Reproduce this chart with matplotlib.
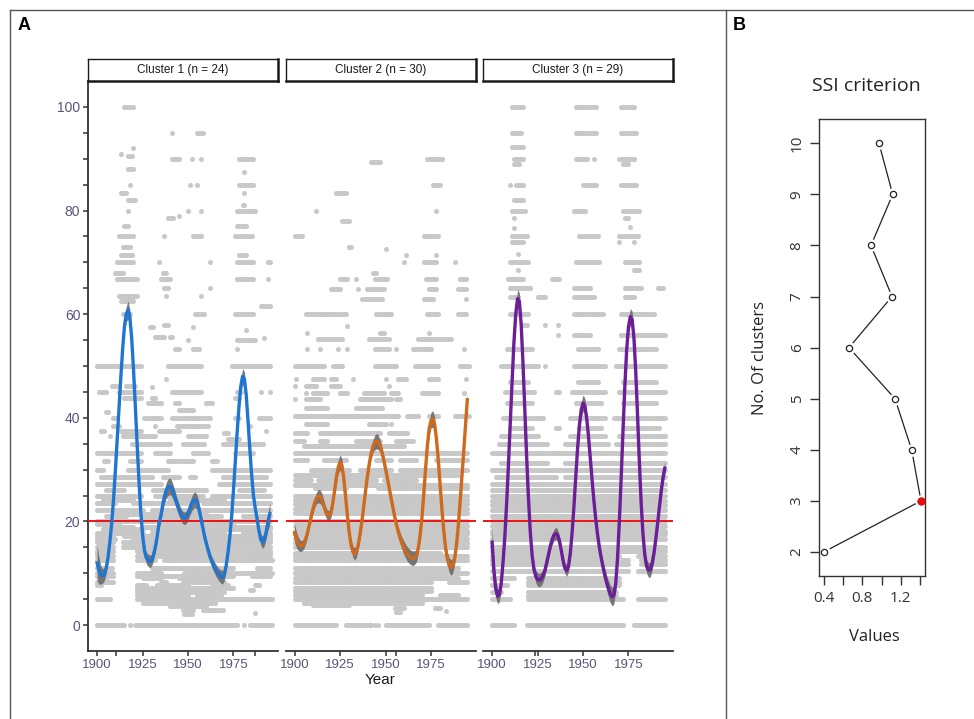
import numpy as np
import matplotlib
matplotlib.use("Agg")
import matplotlib.pyplot as plt
from matplotlib.lines import Line2D

# ── Data ──────────────────────────────────────────────────────────────────────
YEARS = np.arange(1900, 1996)
CLUSTER_LABELS = ["Cluster 1 (n = 24)", "Cluster 2 (n = 30)", "Cluster 3 (n = 29)"]
CLUSTER_COLORS = ["#1f76d2", "#cf6a1d", "#6c1d98"]
THRESHOLD = 20

# smoothed trend per cluster, one value per year 1900..1995
C1_TREND = [12.0, 10.5, 9.7, 9.5, 9.8, 11.0, 13.0, 16.0, 19.5, 24.0,
            29.5, 35.5, 41.5, 47.5, 53.0, 57.5, 60.0, 60.8, 59.5, 55.5,
            49.5, 42.5, 35.0, 28.0, 22.0, 17.5, 14.5, 13.0, 12.5, 12.3,
            12.5, 13.5, 15.0, 17.0, 19.5, 21.0, 23.0, 24.8, 26.0, 26.6,
            26.8, 26.4, 25.5, 24.4, 23.3, 22.3, 21.4, 20.8, 20.6, 20.8,
            21.5, 22.5, 23.4, 24.0, 24.2, 23.7, 22.5, 20.8, 19.0, 17.3,
            15.8, 14.5, 13.3, 12.3, 11.5, 10.8, 10.2, 9.7, 9.4, 9.2,
            9.8, 11.5, 14.0, 17.0, 21.0, 26.0, 31.5, 37.0, 42.0, 46.0,
            48.0, 47.5, 44.5, 39.5, 34.0, 29.0, 25.0, 22.5, 20.5, 18.2,
            16.5, 16.0, 16.5, 18.0, 20.0, 21.5]
C1_BAND = [3.5, 2.6, 1.8, 1.4, 1.2, 1.0, 0.9, 0.8, 0.8, 0.8,
           0.8, 0.9, 0.9, 1.0, 1.0, 1.2, 1.4, 1.8, 1.4, 1.1,
           1.0, 0.9, 0.9, 0.9, 0.9, 1.0, 1.0, 1.1, 1.2, 1.2,
           1.1, 1.0, 1.0, 1.0, 1.0, 1.1, 1.2, 1.3, 1.5, 1.6,
           1.6, 1.5, 1.4, 1.3, 1.2, 1.2, 1.2, 1.2, 1.2, 1.2,
           1.3, 1.3, 1.4, 1.5, 1.5, 1.4, 1.3, 1.1, 1.1, 1.0,
           1.0, 1.0, 1.0, 1.0, 1.1, 1.1, 1.2, 1.2, 1.3, 1.3,
           1.2, 1.0, 1.0, 0.9, 0.9, 0.9, 1.0, 1.0, 1.1, 1.3,
           1.5, 1.4, 1.2, 1.1, 1.0, 1.0, 1.0, 1.0, 1.0, 1.0,
           1.1, 1.2, 1.2, 1.3, 1.6, 2.2]

C2_TREND = [17.8, 16.5, 15.7, 15.3, 15.3, 15.7, 16.5, 17.7, 19.2, 20.8,
            22.3, 23.6, 24.5, 24.9, 24.8, 24.2, 23.2, 22.0, 21.2, 21.1,
            21.8, 23.5, 26.0, 28.6, 30.5, 31.4, 30.8, 28.5, 25.0, 21.3,
            18.0, 15.6, 14.2, 13.7, 14.2, 15.5, 17.5, 20.0, 22.8, 25.8,
            28.6, 31.0, 33.0, 34.4, 35.2, 35.5, 35.3, 34.6, 33.4, 31.9,
            30.2, 28.4, 26.5, 24.6, 22.8, 21.0, 19.4, 18.0, 16.8, 15.8,
            15.0, 14.3, 13.7, 13.3, 13.0, 12.9, 13.0, 13.4, 14.8, 17.2,
            20.5, 25.0, 30.0, 34.5, 37.8, 39.5, 39.8, 38.8, 36.0, 32.0,
            27.3, 22.5, 18.3, 15.0, 12.8, 11.6, 11.1, 11.5, 12.8, 15.3,
            19.0, 23.5, 28.5, 33.5, 38.5, 43.5]
C2_BAND = [1.8, 1.5, 1.3, 1.1, 1.0, 1.0, 0.9, 0.8, 0.8, 0.8,
           0.9, 1.0, 1.1, 1.3, 1.3, 1.2, 1.0, 1.0, 1.0, 1.0,
           1.0, 1.0, 1.0, 1.2, 1.3, 1.5, 1.3, 1.1, 1.0, 0.9,
           0.9, 1.0, 1.1, 1.2, 1.1, 1.0, 0.9, 0.8, 0.8, 0.8,
           0.9, 1.0, 1.1, 1.2, 1.4, 1.5, 1.4, 1.2, 1.1, 1.0,
           1.0, 0.9, 0.9, 0.9, 0.9, 0.9, 1.0, 1.0, 1.1, 1.2,
           1.3, 1.3, 1.4, 1.4, 1.4, 1.4, 1.3, 1.2, 1.0, 0.9,
           0.8, 0.8, 0.9, 1.0, 1.2, 1.5, 1.6, 1.4, 1.2, 1.0,
           0.9, 0.9, 1.0, 1.1, 1.3, 1.4, 1.5, 1.4, 1.2, 1.0,
           1.0, 1.0, 1.0, 1.1, 1.2, 1.3]

C3_TREND = [16.0, 10.5, 7.0, 5.6, 5.8, 8.0, 12.0, 17.0, 23.5, 31.0,
            39.0, 47.0, 54.5, 60.0, 63.0, 62.5, 58.0, 50.5, 41.5, 32.5,
            24.5, 18.0, 13.5, 10.8, 9.4, 8.8, 8.7, 8.9, 9.5, 10.5,
            12.0, 13.6, 15.2, 16.5, 17.4, 17.7, 17.4, 16.3, 14.5, 12.5,
            11.0, 10.5, 11.3, 13.8, 17.8, 22.8, 28.5, 34.0, 38.5, 41.5,
            42.8, 42.3, 40.0, 36.5, 32.3, 28.0, 24.0, 20.5, 17.5, 15.0,
            13.0, 11.2, 9.6, 8.2, 7.0, 6.0, 5.5, 5.8, 8.0, 13.0,
            20.0, 28.5, 37.5, 46.0, 53.0, 57.5, 59.5, 59.0, 55.5, 49.0,
            40.5, 31.5, 23.5, 17.5, 13.5, 11.3, 10.6, 10.7, 11.8, 13.8,
            16.5, 19.5, 22.7, 25.8, 28.5, 30.3]
C3_BAND = [3.0, 2.2, 1.7, 1.5, 1.3, 1.1, 1.0, 0.9, 0.9, 0.9,
           1.0, 1.0, 1.2, 1.4, 1.8, 1.6, 1.2, 1.1, 1.0, 0.9,
           0.9, 0.9, 1.0, 1.0, 1.2, 1.3, 1.3, 1.3, 1.2, 1.1,
           1.0, 1.0, 1.0, 1.0, 1.1, 1.2, 1.1, 1.0, 1.0, 1.0,
           1.0, 1.1, 1.0, 1.0, 0.9, 0.9, 1.0, 1.1, 1.3, 1.5,
           1.6, 1.5, 1.3, 1.1, 1.0, 0.9, 0.9, 0.9, 1.0, 1.0,
           1.1, 1.2, 1.3, 1.4, 1.6, 1.7, 1.8, 1.7, 1.4, 1.1,
           1.0, 0.9, 0.9, 1.0, 1.1, 1.4, 1.6, 1.6, 1.3, 1.1,
           1.0, 0.9, 0.9, 1.0, 1.1, 1.3, 1.4, 1.4, 1.3, 1.1,
           1.0, 1.0, 1.0, 1.1, 1.2, 1.4]

# raw observations as runs of yearly points: (value, first year, last year)
C1_POINTS = [
    (100, 1915, 1920), (95, 1941, 1941), (95, 1955, 1958), (92, 1920, 1920),
    (91, 1913, 1913), (90.5, 1917, 1919), (90, 1941, 1945), (90, 1952, 1952),
    (90, 1957, 1957), (90, 1978, 1986), (88, 1917, 1920), (87.5, 1981, 1981),
    (85, 1918, 1918), (85, 1951, 1951), (85, 1955, 1955), (85, 1978, 1986),
    (83.3, 1913, 1916), (82, 1917, 1921), (83.3, 1981, 1981), (81, 1980, 1981),
    (80, 1917, 1917), (80, 1950, 1950), (80, 1957, 1957), (80, 1977, 1987),
    (78.5, 1939, 1942), (79, 1945, 1945), (77, 1915, 1917), (77, 1977, 1982),
    (75, 1912, 1920), (75, 1937, 1937), (75, 1953, 1957), (75, 1976, 1985),
    (73, 1914, 1918), (71.4, 1913, 1919), (71.4, 1978, 1982), (70, 1911, 1920),
    (70, 1934, 1934), (70, 1962, 1962), (70, 1977, 1986), (70, 1994, 1995),
    (68, 1910, 1914), (68, 1936, 1938), (66.7, 1911, 1922), (66.7, 1935, 1940),
    (66.7, 1977, 1986), (66.7, 1994, 1994), (65, 1937, 1939), (65, 1962, 1962),
    (63.6, 1912, 1922), (63.6, 1938, 1938), (63.6, 1957, 1957), (62.5, 1913, 1920),
    (61.5, 1990, 1995), (60, 1914, 1918), (60, 1954, 1959), (60, 1976, 1986),
    (57.5, 1929, 1931), (58, 1937, 1939), (57.5, 1953, 1953), (57, 1982, 1982),
    (55.6, 1932, 1937), (55.6, 1940, 1941), (55, 1950, 1950), (55, 1977, 1987),
    (55.5, 1992, 1992), (53.3, 1943, 1945), (53.3, 1953, 1956), (53.3, 1977, 1977),
    (50, 1900, 1924), (50, 1939, 1957), (50, 1974, 1995), (47.5, 1938, 1938),
    (46.2, 1908, 1912), (46.2, 1916, 1921), (46, 1930, 1930), (45, 1901, 1905),
    (45, 1912, 1924), (45, 1941, 1957), (45, 1977, 1979), (45, 1990, 1990),
    (45, 1995, 1995), (43.8, 1915, 1924), (43.8, 1930, 1932), (43.8, 1976, 1978),
    (42.8, 1928, 1935), (42.8, 1943, 1945), (42.8, 1960, 1963), (41.2, 1905, 1906),
    (41.5, 1945, 1953), (40, 1909, 1911), (40, 1926, 1935), (40, 1941, 1962),
    (40, 1976, 1978), (40, 1989, 1995), (38.5, 1909, 1912), (38.5, 1932, 1932),
    (38.5, 1944, 1961), (38.5, 1984, 1984), (37.5, 1902, 1904), (37.5, 1913, 1924),
    (37.5, 1934, 1945), (37, 1970, 1972), (37.5, 1993, 1993), (36.4, 1907, 1907),
    (36.4, 1914, 1932), (36.4, 1950, 1960), (36, 1972, 1978), (35, 1919, 1940),
    (35, 1947, 1959), (35, 1969, 1991), (33.3, 1900, 1924), (33.3, 1932, 1940),
    (33.3, 1953, 1961), (33.3, 1976, 1986), (31.6, 1904, 1906), (31.6, 1918, 1924),
    (31.6, 1939, 1953), (31.6, 1963, 1966), (30, 1900, 1903), (30, 1917, 1939),
    (30, 1963, 1995), (28.6, 1902, 1930), (28.6, 1936, 1945), (28.6, 1951, 1954),
    (28.6, 1969, 1993), (27.3, 1900, 1935), (27.3, 1967, 1995), (26, 1905, 1915),
    (26, 1931, 1960), (26, 1978, 1992), (25, 1900, 1924), (25, 1932, 1958),
    (25, 1963, 1995), (24.2, 1903, 1920), (24.2, 1940, 1970), (23.5, 1900, 1910),
    (23.5, 1920, 1950), (23.5, 1958, 1995), (22.2, 1900, 1925), (22.2, 1930, 1995),
    (21.5, 1910, 1960), (21, 1905, 1916), (21, 1925, 1968), (21, 1980, 1995),
    (20, 1900, 1995), (19.5, 1900, 1912), (19.5, 1935, 1975), (19, 1905, 1920),
    (19, 1925, 1960), (19, 1975, 1995), (18.5, 1903, 1925), (18.5, 1930, 1995),
    (17.8, 1900, 1925), (17.8, 1930, 1970), (17.8, 1980, 1995), (17.2, 1900, 1909),
    (17.2, 1915, 1995), (16.7, 1900, 1910), (16.7, 1920, 1995), (16, 1900, 1909),
    (16, 1914, 1995), (15.4, 1903, 1906), (15.4, 1930, 1970), (15, 1900, 1909),
    (15, 1914, 1995), (14.3, 1900, 1909), (14.3, 1922, 1995), (14, 1900, 1908),
    (14, 1925, 1960), (14, 1985, 1995), (13.3, 1900, 1909), (13.3, 1922, 1995),
    (12.5, 1900, 1909), (12.5, 1922, 1932), (12.5, 1937, 1996), (11.1, 1900, 1908),
    (11.1, 1930, 1975), (11.1, 1988, 1995), (10, 1900, 1909), (10, 1922, 1935),
    (10, 1948, 1996), (9.5, 1900, 1909), (9.5, 1922, 1975), (9.5, 1985, 1995),
    (9, 1902, 1905), (9, 1925, 1935), (9, 1945, 1965), (8.3, 1900, 1909),
    (8.3, 1935, 1938), (8.3, 1947, 1970), (7.7, 1900, 1902), (7.7, 1922, 1927),
    (7.7, 1933, 1950), (7.7, 1963, 1972), (7.7, 1987, 1989), (7.1, 1922, 1975),
    (6.7, 1922, 1966), (6.7, 1984, 1986), (6.3, 1922, 1970), (5.9, 1922, 1950),
    (5.9, 1955, 1968), (5, 1900, 1907), (5, 1922, 1977), (5, 1978, 1996),
    (4.3, 1925, 1965), (3.6, 1940, 1960), (2.9, 1947, 1953), (2.9, 1958, 1969),
    (2.3, 1987, 1987), (2.2, 1948, 1952), (0, 1900, 1915), (0, 1918, 1918),
    (0, 1921, 1977), (0, 1981, 1981), (0, 1984, 1996),
]
C2_POINTS = [
    (90, 1973, 1981), (89.3, 1942, 1947), (85, 1976, 1980), (83.3, 1923, 1928),
    (80, 1912, 1912), (80, 1978, 1978), (78, 1926, 1930), (75, 1900, 1904),
    (75, 1971, 1979), (73, 1930, 1931), (72.5, 1950, 1950), (71.4, 1961, 1961),
    (71.4, 1978, 1978), (70, 1960, 1960), (70, 1971, 1978), (70, 1988, 1988),
    (68, 1943, 1945), (66.7, 1925, 1929), (66.7, 1934, 1934), (66.7, 1944, 1951),
    (66.7, 1972, 1978), (66.7, 1991, 1994), (64.8, 1920, 1925), (64.8, 1935, 1935),
    (64.8, 1940, 1949), (64.8, 1974, 1978), (64.8, 1990, 1994), (62.9, 1937, 1948),
    (62.9, 1971, 1976), (62.9, 1994, 1994), (60, 1906, 1928), (60, 1945, 1953),
    (60, 1973, 1979), (60, 1990, 1994), (57.7, 1929, 1929), (56.4, 1907, 1907),
    (56.4, 1947, 1949), (56.4, 1974, 1974), (55.2, 1913, 1926), (55.2, 1941, 1952),
    (55.2, 1968, 1986), (53.2, 1907, 1907), (53.2, 1914, 1914), (53.2, 1924, 1924),
    (53.2, 1929, 1929), (53.2, 1944, 1952), (53.2, 1956, 1956), (53.2, 1965, 1975),
    (53.2, 1993, 1993), (50, 1900, 1916), (50, 1921, 1926), (50, 1944, 1956),
    (50, 1966, 1979), (50, 1991, 1996), (47.4, 1901, 1901), (47.4, 1910, 1916),
    (47.4, 1920, 1923), (47.4, 1932, 1932), (47.4, 1950, 1950), (47.4, 1957, 1961),
    (47.4, 1974, 1979), (47.4, 1994, 1994), (46.1, 1900, 1900), (46.1, 1906, 1912),
    (46.1, 1920, 1925), (46.1, 1952, 1952), (44.8, 1906, 1906), (44.8, 1910, 1918),
    (44.8, 1925, 1929), (44.8, 1938, 1949), (44.8, 1953, 1957), (44.8, 1970, 1979),
    (44.8, 1993, 1993), (43.6, 1900, 1900), (43.6, 1906, 1914), (43.6, 1936, 1953),
    (43.6, 1956, 1958), (41.9, 1906, 1918), (41.9, 1934, 1948), (40.3, 1900, 1957),
    (40.3, 1962, 1968), (40.3, 1974, 1979), (40.3, 1988, 1996), (38.9, 1906, 1918),
    (38.9, 1941, 1950), (38.9, 1953, 1953), (37.1, 1900, 1907), (37.1, 1914, 1947),
    (37.1, 1952, 1962), (35.5, 1900, 1905), (35.5, 1914, 1918), (35.5, 1934, 1947),
    (35.5, 1956, 1965), (34.5, 1905, 1960), (33.3, 1900, 1995), (31.9, 1900, 1907),
    (31.9, 1916, 1928), (31.9, 1945, 1953), (31.9, 1958, 1967), (31.9, 1978, 1995),
    (30, 1909, 1930), (30, 1936, 1953), (30, 1958, 1965), (30, 1967, 1995),
    (29, 1900, 1990), (28, 1900, 1909), (28, 1913, 1945), (28, 1949, 1967),
    (27, 1900, 1995), (26.4, 1911, 1928), (26.4, 1946, 1995), (25, 1900, 1995),
    (24.2, 1900, 1995), (23.3, 1900, 1995), (22.5, 1900, 1995), (21.7, 1900, 1995),
    (20, 1900, 1995), (19.2, 1900, 1995), (18.2, 1900, 1995), (17.5, 1900, 1995),
    (16.7, 1900, 1995), (15.8, 1900, 1995), (15, 1900, 1995), (14, 1900, 1980),
    (13.3, 1900, 1995), (12.5, 1900, 1995), (11.1, 1900, 1990), (10, 1900, 1995),
    (9.1, 1900, 1990), (8.3, 1900, 1975), (8.3, 1985, 1995), (7.1, 1900, 1975),
    (6.5, 1900, 1975), (5.9, 1900, 1970), (5.9, 1980, 1990), (5, 1900, 1995),
    (4.2, 1905, 1970), (3.8, 1910, 1930), (3.3, 1955, 1960), (2.5, 1956, 1958),
    (3.3, 1977, 1980), (2.8, 1983, 1983), (0, 1900, 1923), (0, 1928, 1942),
    (0, 1944, 1944), (0, 1946, 1946), (0, 1950, 1974), (0, 1979, 1995),
]
C3_POINTS = [
    (100, 1911, 1917), (100, 1946, 1957), (100, 1971, 1978), (95, 1911, 1916),
    (95, 1946, 1957), (95, 1971, 1979), (92.3, 1911, 1917), (90, 1912, 1917),
    (90, 1946, 1952), (90, 1956, 1956), (90, 1970, 1978), (88.9, 1912, 1915),
    (88.9, 1972, 1975), (85, 1910, 1910), (85, 1913, 1917), (85, 1950, 1957),
    (85, 1971, 1979), (82, 1912, 1917), (80, 1911, 1918), (80, 1945, 1951),
    (80, 1972, 1981), (78.6, 1912, 1912), (78.6, 1973, 1975), (76.7, 1912, 1912),
    (76.9, 1976, 1976), (75, 1911, 1919), (75, 1948, 1958), (75, 1970, 1980),
    (73.9, 1911, 1917), (73.9, 1970, 1970), (73.9, 1978, 1978), (71.7, 1914, 1914),
    (70, 1910, 1920), (70, 1946, 1959), (70, 1973, 1981), (68.5, 1914, 1914),
    (68.5, 1978, 1981), (66.7, 1909, 1917), (66.7, 1933, 1937), (65, 1910, 1921),
    (65, 1945, 1954), (65, 1973, 1982), (65, 1991, 1994), (63.3, 1910, 1914),
    (63.3, 1925, 1929), (63.3, 1945, 1956), (63.3, 1973, 1978), (60, 1910, 1920),
    (60, 1945, 1961), (60, 1971, 1989), (58, 1917, 1919), (58, 1929, 1929),
    (58, 1936, 1936), (55.9, 1936, 1936), (55.9, 1945, 1954), (55.9, 1971, 1995),
    (53.3, 1908, 1922), (53.3, 1947, 1958), (53.3, 1970, 1990), (50, 1905, 1925),
    (50, 1929, 1929), (50, 1945, 1962), (50, 1968, 1995), (47, 1910, 1920),
    (47, 1947, 1958), (47, 1972, 1990), (45, 1907, 1923), (45, 1935, 1937),
    (45, 1944, 1962), (45, 1970, 1995), (42.9, 1908, 1922), (42.9, 1946, 1960),
    (42.9, 1972, 1990), (40, 1906, 1928), (40, 1943, 1962), (40, 1967, 1995),
    (38, 1910, 1922), (38, 1935, 1937), (38, 1948, 1960), (38, 1972, 1992),
    (36.4, 1905, 1925), (36.4, 1943, 1962), (36.4, 1970, 1995), (35, 1904, 1930),
    (35, 1940, 1964), (35, 1968, 1995), (33.3, 1900, 1995), (31.3, 1905, 1930),
    (31.3, 1940, 1995), (30, 1900, 1995), (28.6, 1902, 1935), (28.6, 1940, 1995),
    (27.3, 1900, 1995), (26, 1900, 1995), (25, 1900, 1995), (24, 1900, 1995),
    (23.1, 1900, 1995), (22.2, 1900, 1995), (21, 1900, 1995), (20, 1900, 1995),
    (19.2, 1900, 1995), (18.2, 1900, 1995), (17.5, 1900, 1995), (16.7, 1900, 1995),
    (15, 1900, 1995), (14.3, 1900, 1995), (13.3, 1900, 1970), (13.3, 1980, 1995),
    (12.5, 1900, 1975), (12.5, 1982, 1995), (11.8, 1900, 1975), (11.8, 1982, 1995),
    (10.5, 1900, 1975), (10.5, 1980, 1995), (9.1, 1900, 1912), (9.1, 1920, 1970),
    (8.3, 1920, 1970), (7.7, 1900, 1908), (7.7, 1920, 1970), (6.3, 1900, 1905),
    (6.3, 1920, 1968), (5.6, 1920, 1968), (5, 1900, 1910), (5, 1920, 1972),
    (5, 1980, 1995), (0, 1900, 1912), (0, 1919, 1972), (0, 1978, 1995),
]

TRENDS = [C1_TREND, C2_TREND, C3_TREND]
BANDS = [C1_BAND, C2_BAND, C3_BAND]
POINTS = [C1_POINTS, C2_POINTS, C3_POINTS]
# odd extra tick marks seen on each panel's year axis
EXTRA_TICKS = [[1910.5, 1987], [1955.5], [1923.5]]

# SSI criterion per number of clusters
N_CLUSTERS = [2, 3, 4, 5, 6, 7, 8, 9, 10]
SSI_VALUES = [0.40, 1.408, 1.312, 1.139, 0.662, 1.108, 0.890, 1.115, 0.973]
BEST_K = 3

# ── Figure ────────────────────────────────────────────────────────────────────
W, H = 974, 719
fig = plt.figure(figsize=(W / 100, H / 100), dpi=100)
fig.patch.set_facecolor("white")


def fx(px):
    return px / W


def fy(py):
    return 1 - py / H


# outer frame
for xs, ys in [([10, 974], [10, 10]), ([10, 10], [10, 719]), ([725.7, 725.7], [10, 719])]:
    fig.add_artist(Line2D([fx(x) for x in xs], [fy(y) for y in ys],
                          color="#555555", lw=1.0))
fig.text(fx(24), fy(26), "A", fontsize=13, fontweight="bold",
         family="Liberation Sans", ha="center", va="center")
fig.text(fx(739), fy(26), "B", fontsize=13, fontweight="bold",
         family="Liberation Sans", ha="center", va="center")

TICK_COL = "#55557a"
AX_COL = "#333333"
panel_left = [88, 285.5, 483]
panel_w = 190

for i in range(3):
    ax = fig.add_axes([fx(panel_left[i]), fy(651), fx(panel_w), (651 - 81) / H])
    pts = POINTS[i]
    px = np.concatenate([np.arange(a, b + 1) for v, a, b in pts])
    py = np.concatenate([np.full(len(np.arange(a, b + 1)), v) for v, a, b in pts])
    ax.scatter(px, py, s=13, color="#c8c8c8", linewidths=0, zorder=1)

    trend = np.array(TRENDS[i])
    band = np.array(BANDS[i])
    ax.fill_between(YEARS, trend - band, trend + band, color="#6a6a6a",
                    alpha=0.9, linewidth=0, zorder=2)
    ax.axhline(THRESHOLD, color="#ee1414", lw=1.4, zorder=3)
    ax.plot(YEARS, trend, color=CLUSTER_COLORS[i], lw=2.4, zorder=4)

    ax.set_xlim(1895, 1999.5)
    ax.set_ylim(-5, 105)
    for side in ["top", "right"]:
        ax.spines[side].set_visible(False)
    ax.spines["bottom"].set_color(AX_COL)
    ax.spines["bottom"].set_linewidth(1.3)
    ax.set_xticks([1900, 1925, 1950, 1975])
    ax.set_xticklabels(["1900", "1925", "1950", "1975"])
    ax.set_xticks(EXTRA_TICKS[i], minor=True)
    ax.tick_params(axis="x", which="both", length=3.5, width=1.1, color=AX_COL,
                   labelsize=9.5, labelcolor=TICK_COL, pad=2)
    if i == 0:
        ax.spines["left"].set_color(AX_COL)
        ax.spines["left"].set_linewidth(1.3)
        ax.set_yticks(np.arange(0, 101, 20))
        ax.set_yticks(np.arange(0, 101, 5), minor=True)
        ax.tick_params(axis="y", which="both", length=3.5, width=1.1, color=AX_COL,
                       labelsize=10, labelcolor=TICK_COL, pad=2)
    else:
        ax.spines["left"].set_visible(False)
        ax.set_yticks([])
    for lab in ax.get_xticklabels() + ax.get_yticklabels():
        lab.set_family("Liberation Sans")

    # facet strip
    sx = fig.add_axes([fx(panel_left[i]), fy(81), fx(panel_w), 22 / H])
    sx.set_xticks([])
    sx.set_yticks([])
    sx.set_facecolor("white")
    for side in sx.spines:
        sx.spines[side].set_color("#1a1a1a")
        sx.spines[side].set_linewidth(1.0)
    sx.spines["right"].set_linewidth(1.8)
    sx.spines["bottom"].set_linewidth(1.8)
    sx.text(0.5, 0.5, CLUSTER_LABELS[i], ha="center", va="center",
            fontsize=8.5, family="Liberation Sans", color="#1a1a1a",
            transform=sx.transAxes)

fig.text(fx(380), fy(680), "Year", ha="center", va="center", fontsize=11,
         family="Liberation Sans", color="#1a1a1a")

# ── Panel B: SSI criterion ────────────────────────────────────────────────────
bx = fig.add_axes([fx(819.3), fy(576), fx(105.7), 456.7 / H])
bx.plot(SSI_VALUES, N_CLUSTERS, color="#222222", lw=0.9, zorder=1)
bx.plot(SSI_VALUES, N_CLUSTERS, "o", ms=9, color="white", mec="none", zorder=2)
bx.plot(SSI_VALUES, N_CLUSTERS, "o", ms=4.5, mfc="white", mec="#222222",
        mew=0.9, zorder=3)
best = N_CLUSTERS.index(BEST_K)
bx.plot(SSI_VALUES[best], N_CLUSTERS[best], "o", ms=5, color="#e01010",
        mec="#e01010", zorder=4)
bx.set_xlim(0.354, 1.45)
bx.set_ylim(1.53, 10.47)
bx.set_yticks(N_CLUSTERS)
bx.set_yticklabels([str(k) for k in N_CLUSTERS], rotation=90, va="center")
bx.set_xticks([0.4, 0.6, 0.8, 1.0, 1.2, 1.4])
bx.set_xticklabels(["0.4", "", "0.8", "", "1.2", ""])
for side in bx.spines:
    bx.spines[side].set_color("#333333")
    bx.spines[side].set_linewidth(1.0)
bx.tick_params(length=6.5, width=1.0, color="#333333", labelsize=11,
               labelcolor="#333333", pad=4)
for lab in bx.get_xticklabels() + bx.get_yticklabels():
    lab.set_family("Open Sans")
fig.text(fx(866), fy(86), "SSI criterion", ha="center", va="center",
         fontsize=14, family="Open Sans", color="#222222")
fig.text(fx(760), fy(358), "No. Of clusters", ha="center", va="center",
         rotation=90, fontsize=12, family="Open Sans", color="#222222")
fig.text(fx(874), fy(637), "Values", ha="center", va="center",
         fontsize=12, family="Open Sans", color="#222222")

fig.savefig("out.png", dpi=100)
